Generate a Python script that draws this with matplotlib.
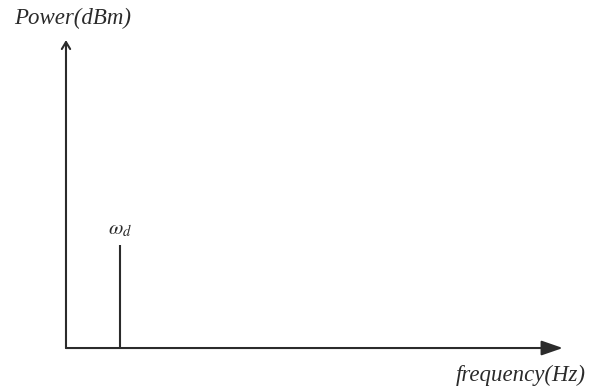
import numpy as np
import matplotlib.pyplot as plt

plt.rcParams['font.family'] = ['Liberation Serif', 'DejaVu Serif']
plt.rcParams['mathtext.fontset'] = 'stix'

# schematic spectrum: a single tone at omega_d
tone_freq = [1.0]
tone_power = [1.0]
tone_labels = [r'$\omega_d$']
x_axis_end = 9.2
y_axis_end = 2.99

ink = '#2b2b2b'

fig = plt.figure(figsize=(6.03, 3.92), dpi=100)
ax = fig.add_axes([0, 0, 1, 1])
ax.set_xlim(-1.222, 9.944)
ax.set_ylim(-0.427, 3.379)
ax.axis('off')

# axes arrows
ax.annotate('', xy=(x_axis_end, 0), xytext=(0, 0),
            arrowprops=dict(arrowstyle='-|>,head_length=1.3,head_width=0.45',
                            color=ink, lw=1.5, shrinkA=0, shrinkB=0))
ax.annotate('', xy=(0, y_axis_end), xytext=(0, 0),
            arrowprops=dict(arrowstyle='->,head_length=0.5,head_width=0.3',
                            color=ink, lw=1.5, shrinkA=0, shrinkB=0))

# the spectral line
ax.vlines(tone_freq, 0, tone_power, color=ink, lw=1.5)
for f, p, lab in zip(tone_freq, tone_power, tone_labels):
    ax.text(f, p + 0.06, lab, ha='center', va='bottom', fontsize=15, color=ink)

ax.text(0.13, 3.2, 'Power(dBm)', ha='center', va='center',
        fontsize=16.5, style='italic', color=ink)
ax.text(8.42, -0.27, 'frequency(Hz)', ha='center', va='center',
        fontsize=16.5, style='italic', color=ink)

fig.savefig('out.png', dpi=100)
